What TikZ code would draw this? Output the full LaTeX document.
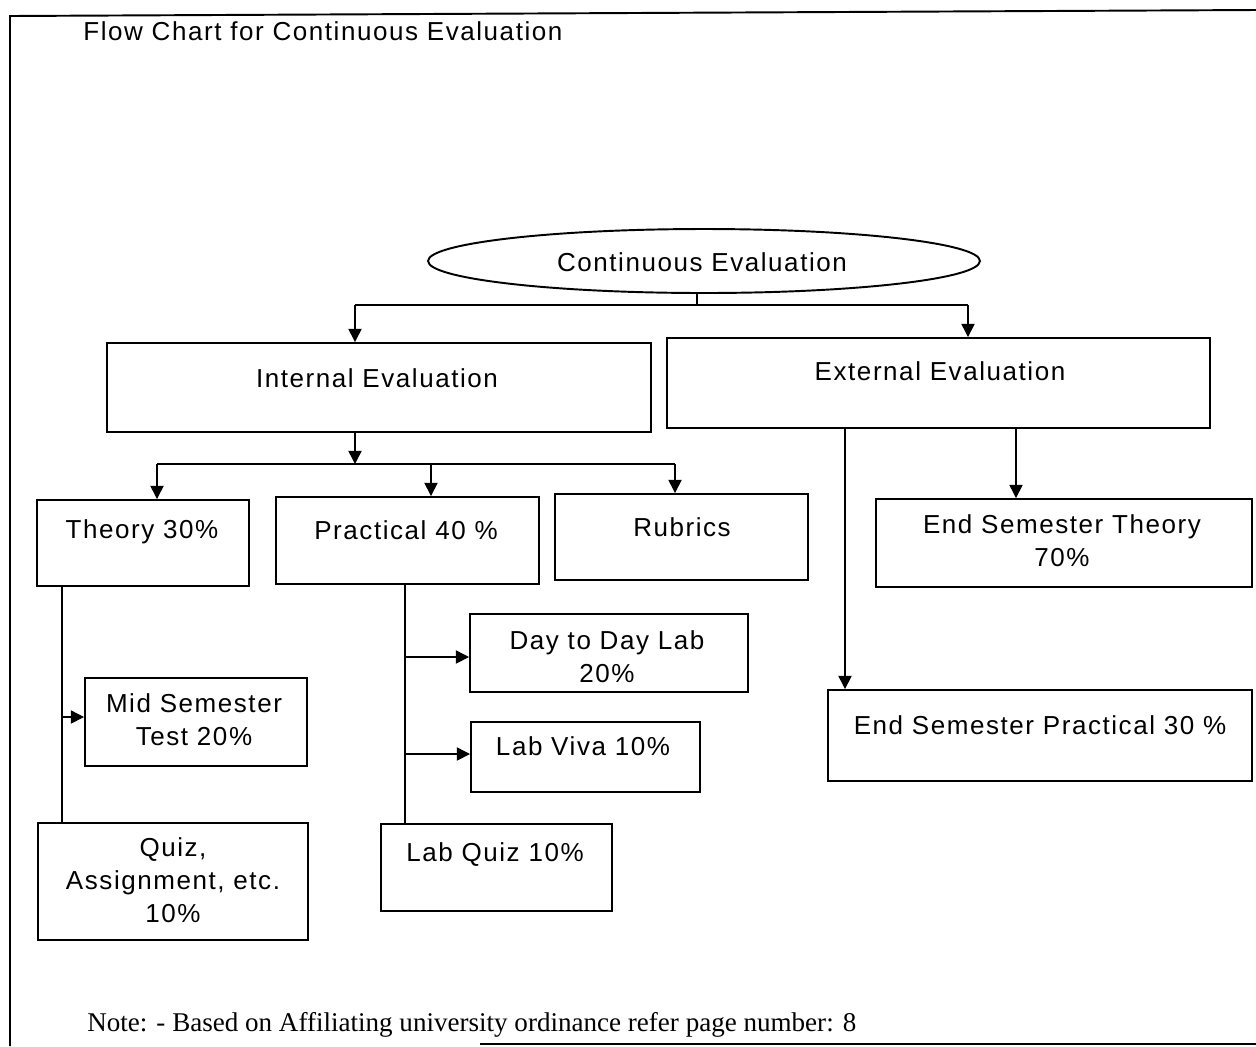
\documentclass[tikz,border=0pt]{standalone}
\usepackage{fontspec}
\setmainfont{Liberation Sans}[LetterSpace=6]
\newfontfamily\notefont{Liberation Serif}
\usetikzlibrary{arrows.meta,shapes.geometric,fit}
\begin{document}
\begin{tikzpicture}[x=0.02cm,y=-0.02cm,
  bx/.style={draw, line width=1.1pt, inner sep=0pt},
  lbl/.style={font=\fontsize{14.8}{18.7}\selectfont, align=center, inner sep=0pt},
  con/.style={line width=0.8pt},
  arr/.style={con, -{Triangle[length=7.5pt,width=7.5pt]}},
  frame/.style={line width=1.1pt}]
\useasboundingbox (0,0) rectangle (1256,1046);
% outer frame
\coordinate (fa) at (10,1046);
\coordinate (fb) at (10,16);
\coordinate (fc) at (1256,10);
\coordinate (fd) at (480,1044);
\coordinate (fe) at (1256,1044);
\draw[frame] (fa) -- (fb) -- (fc);
\draw[frame] (fd) -- (fe);
% title and note
\node[anchor=west, inner sep=0pt, font=\fontsize{14.8}{17}\selectfont] (title) at (83,31) {Flow Chart for Continuous Evaluation};
\node[anchor=west, inner sep=0pt, font=\notefont\fontsize{15.4}{17}\selectfont] (note) at (87,1025) {Note: - Based on Affiliating university ordinance refer page number: 8};
% top ellipse
\node[draw, line width=1.1pt, ellipse, minimum width=11.04cm, minimum height=1.28cm, inner sep=0pt] (ce) at (704,261) {};
\node[lbl] (cet) at (702,262) {Continuous Evaluation};
% boxes
\node[bx, fit={(107,343) (651,432)}] (int) {};
\node[lbl] (intt) at (377,378) {Internal Evaluation};
\node[bx, fit={(667,338) (1210,428)}] (ext) {};
\node[lbl] (extt) at (940,371) {External Evaluation};
\node[bx, fit={(37,500) (249,586)}] (th) {};
\node[lbl] (tht) at (142,532) {Theory 30\%};
\node[bx, fit={(276,497) (539,584)}] (pr) {};
\node[lbl] (prt) at (406,530) {Practical 40 \%};
\node[bx, fit={(555,494) (808,580)}] (rb) {};
\node[lbl] (rbt) at (682,527) {Rubrics};
\node[bx, fit={(876,499) (1252,587)}] (est) {};
\node[lbl] (estt) at (1062,541) {End Semester Theory\\70\%};
\node[bx, fit={(828,690) (1252,781)}] (esp) {};
\node[lbl] (espt) at (1040,725) {End Semester Practical 30 \%};
\node[bx, fit={(85,678) (307,766)}] (mid) {};
\node[lbl] (midt) at (194,720) {Mid Semester\\Test 20\%};
\node[bx, fit={(38,823) (308,940)}] (qz) {};
\node[lbl] (qzt) at (173,880) {Quiz,\\Assignment, etc.\\10\%};
\node[bx, fit={(470,614) (748,692)}] (dd) {};
\node[lbl] (ddt) at (607,657) {Day to Day Lab\\20\%};
\node[bx, fit={(471,722) (700,792)}] (lv) {};
\node[lbl] (lvt) at (583,746) {Lab Viva 10\%};
\node[bx, fit={(381,824) (612,911)}] (lq) {};
\node[lbl] (lqt) at (495,855) {Lab Quiz 10\%};
% connectors: top level
\coordinate (t1) at (697,305);
\coordinate (b1l) at (355,305);
\coordinate (b1r) at (968,305);
\draw[con] (ce.south -| t1) -- (t1);
\draw[con] (b1l) -- (b1r);
\draw[arr] (b1l) -- (b1l |- int.north);
\draw[arr] (b1r) -- (b1r |- ext.north);
% internal
\coordinate (b2) at (355,464);
\coordinate (b2l) at (157,464);
\coordinate (b2m) at (431,464);
\coordinate (b2r) at (675,464);
\draw[arr] (int.south -| b2) -- (b2);
\draw[con] (b2l) -- (b2r);
\draw[arr] (b2l) -- (b2l |- th.north);
\draw[arr] (b2m) -- (b2m |- pr.north);
\draw[arr] (b2r) -- (b2r |- rb.north);
% theory
\coordinate (tv) at (62,717);
\draw[con] (th.south -| tv) -- (tv |- qz.north);
\draw[arr] (tv) -- (tv -| mid.west);
% practical
\coordinate (pv) at (405,657);
\coordinate (pv2) at (405,754);
\draw[con] (pr.south -| pv) -- (pv |- lq.north);
\draw[arr] (pv) -- (pv -| dd.west);
\draw[arr] (pv2) -- (pv2 -| lv.west);
% external
\coordinate (ev1) at (845,600);
\coordinate (ev2) at (1016,460);
\draw[arr] (ext.south -| ev1) -- (ev1 |- esp.north);
\draw[arr] (ext.south -| ev2) -- (ev2 |- est.north);
\end{tikzpicture}
\end{document}
